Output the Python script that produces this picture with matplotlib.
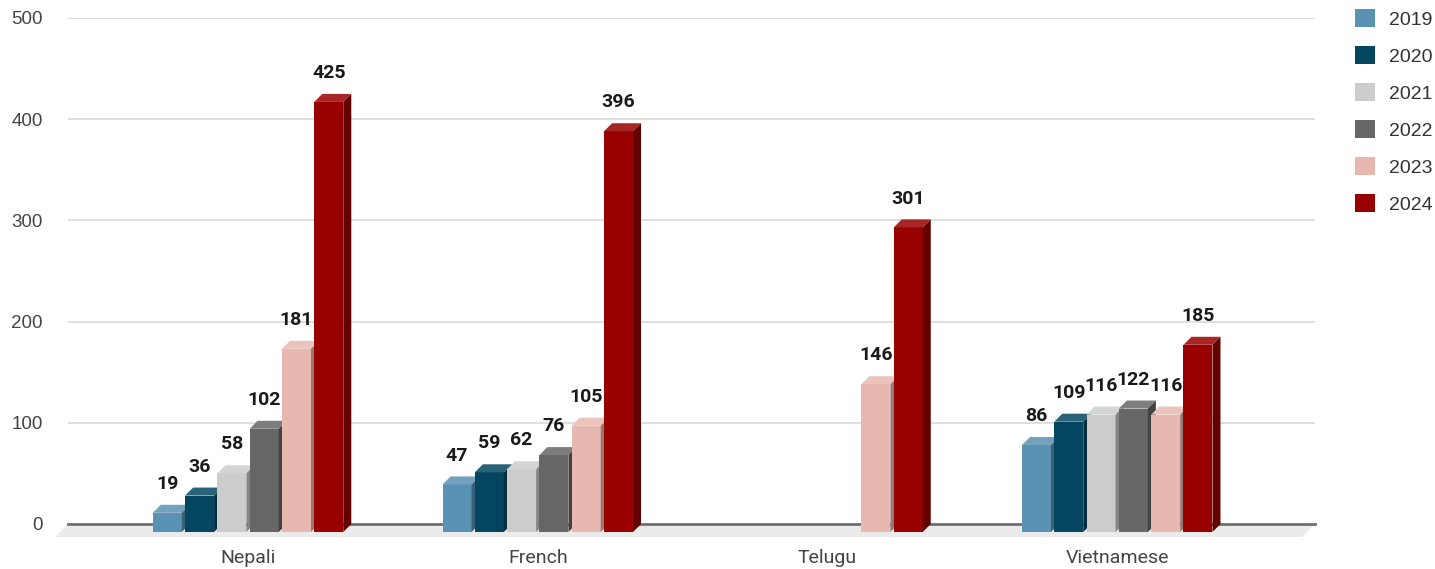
import numpy as np
import matplotlib.pyplot as plt
from matplotlib.patches import Polygon, Patch
from matplotlib.colors import to_rgb

# Data
#-----------------------------------
languages = ["Nepali", "French", "Telugu", "Vietnamese"]
years = ["2019", "2020", "2021", "2022", "2023", "2024"]
counts_2019 = [19, 47, 0, 86]
counts_2020 = [36, 59, 0, 109]
counts_2021 = [58, 62, 0, 116]
counts_2022 = [102, 76, 0, 122]
counts_2023 = [181, 105, 146, 116]
counts_2024 = [425, 396, 301, 185]
series = [counts_2019, counts_2020, counts_2021, counts_2022, counts_2023, counts_2024]
colors = ["#5a92b4", "#04465f", "#cccccc", "#666666", "#e6b8af", "#990000"]

W, H = 1435, 569
fig = plt.figure(figsize=(W / 100, H / 100), dpi=100)
ax = fig.add_axes([68 / W, 45 / H, (1315 - 68) / W, (524 - 18) / H])

xmin, xmax = -0.649, 3.655
ax.set_xlim(xmin, xmax)
ax.set_ylim(0, 500)

# pixel -> data conversion for the fake 3D depth
ax_w_px = 1315 - 68
ax_h_px = 524 - 18
px_x = (xmax - xmin) / ax_w_px
px_y = 500 / ax_h_px
depth = 8
dx, dy = depth * px_x, depth * px_y
pitch = 32.3 * px_x
bw = 29 * px_x

def shade(c, f):
    r = np.array(to_rgb(c))
    if f > 1:
        return tuple(r + (1 - r) * (f - 1))
    return tuple(r * f)

# grid
for v in range(100, 501, 100):
    ax.axhline(v, color="#d9d9d9", lw=1.2, zorder=0)

# floor
fd = 13
floor = Polygon([(xmin, 0), (xmax, 0), (xmax - fd * px_x, -fd * px_y), (xmin - fd * px_x, -fd * px_y)],
                closed=True, facecolor="#ebebeb", edgecolor="none", clip_on=False, zorder=1)
ax.add_patch(floor)
ax.plot([xmin, xmax], [0, 0], color="#707070", lw=2, zorder=2, clip_on=False)

# bars
z = 3
for i in range(len(languages)):
    for j, vals in enumerate(series):
        v = vals[i]
        if v == 0:
            continue
        xl = i - 2.5 * pitch + j * pitch - bw / 2   # back plane left
        xr = xl + bw
        col = colors[j]
        # front face
        ax.bar(xl - dx, v, width=bw, bottom=-dy, align="edge", color=col,
               zorder=z, clip_on=False)
        top = Polygon([(xl - dx, v - dy), (xr - dx, v - dy), (xr, v), (xl, v)],
                      facecolor=shade(col, 1.15), edgecolor="none", zorder=z, clip_on=False)
        side = Polygon([(xr - dx, -dy), (xr, 0), (xr, v), (xr - dx, v - dy)],
                       facecolor=shade(col, 0.65), edgecolor="none", zorder=z, clip_on=False)
        ax.add_patch(top)
        ax.add_patch(side)
        ax.annotate(str(v), (xl - dx + bw / 2, v), xytext=(0, 15), textcoords="offset points",
                    ha="center", va="center", fontsize=14, fontweight="bold",
                    family="Roboto", color="#1a1a1a", zorder=50)
        z += 1

# axes styling
for s in ax.spines.values():
    s.set_visible(False)
ax.set_yticks(range(0, 501, 100))
ax.tick_params(axis="y", length=0, pad=18, labelsize=13.5, labelcolor="#444444")
for t in ax.get_yticklabels():
    t.set_family("Liberation Sans")
ax.set_xticks(np.arange(len(languages)) - dx)
ax.set_xticklabels(languages, family="Roboto", fontsize=14, color="#444444")
ax.tick_params(axis="x", length=0, pad=18)

handles = [Patch(facecolor=c, edgecolor="none") for c in colors]
fig.legend(handles, years, loc="upper left", bbox_to_anchor=(1355 / W, 1 - 9 / H),
           frameon=False, prop={"family": "Liberation Sans", "size": 14},
           handlelength=1.03, handleheight=1.03, labelspacing=0.9, handletextpad=0.72,
           borderpad=0, borderaxespad=0, labelcolor="#333333")

fig.savefig("out.png", dpi=100)
